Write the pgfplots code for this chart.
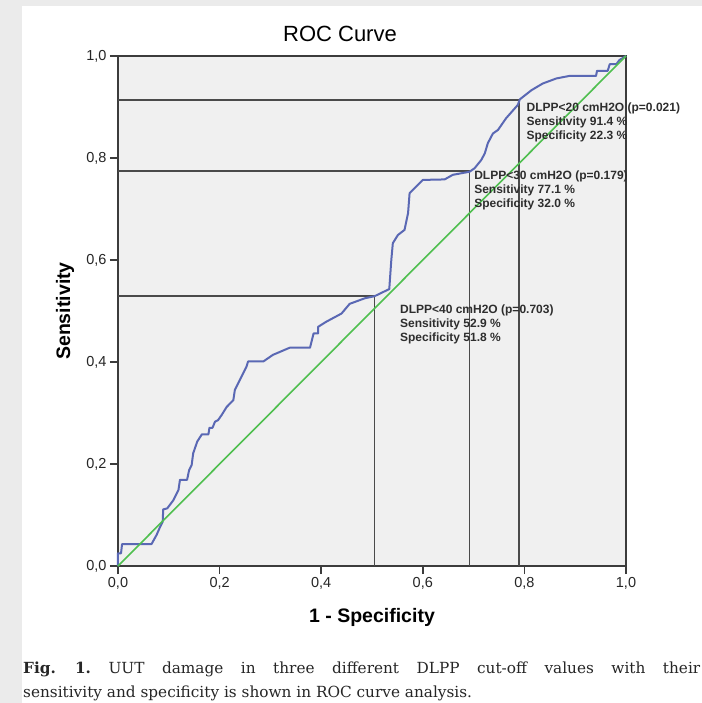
\documentclass[border=0pt]{standalone}
\usepackage{fontspec}
\setmainfont{Liberation Sans}
\newfontfamily\capfont{DejaVu Serif}
\usepackage{pgfplots}
\pgfplotsset{compat=1.18}
\definecolor{framegray}{HTML}{EBEBEB}
\definecolor{plotbg}{HTML}{F0F0F0}
\definecolor{axisgray}{HTML}{3C3C3C}
\definecolor{refgray}{HTML}{4A4A4A}
\definecolor{rocblue}{HTML}{5A68B4}
\definecolor{diaggreen}{HTML}{4FBF4F}
\definecolor{txtgray}{HTML}{2E2E2E}

% cut-off annotation: x, y (baseline of first line), three lines
\newcommand{\cutoff}[5]{%
  \node[annot] at (axis cs:#1,#2) {#3};
  \node[annot, yshift=-14bp] at (axis cs:#1,#2) {#4};
  \node[annot, yshift=-28bp] at (axis cs:#1,#2) {#5};
}

\begin{document}
\frenchspacing
\begin{tikzpicture}[
  annot/.style={anchor=base west, inner sep=0pt, text=txtgray,
    font=\fontsize{12bp}{14bp}\selectfont\bfseries}
]
% page background
\fill[framegray] (-118bp,-137bp) rectangle (584bp,566bp);
\fill[white] (-96bp,-137bp) rectangle (584bp,560bp);

\begin{axis}[
  at={(0,0)}, anchor=south west,
  scale only axis, width=508bp, height=510bp,
  xmin=0, xmax=1, ymin=0, ymax=1,
  xtick={0,0.2,0.4,0.6,0.8,1}, ytick={0,0.2,0.4,0.6,0.8,1},
  tick pos=left, tick align=outside,
  major tick length=8bp,
  axis line style={draw=axisgray, line width=1.5bp},
  tick style={draw=axisgray, line width=1.5bp},
  axis background/.style={fill=plotbg},
  /pgf/number format/use comma,
  /pgf/number format/fixed,
  /pgf/number format/fixed zerofill,
  /pgf/number format/precision=1,
  /pgf/number format/assume math mode=true,
  tick label style={font=\fontsize{14.5bp}{16bp}\selectfont, text=black!85},
  title={ROC Curve},
  title style={font=\fontsize{22bp}{26bp}\selectfont,
    at={(axis description cs:0.437,1.0314)}, anchor=center},
  xlabel={1 - Specificity},
  xlabel style={font=\fontsize{19.5bp}{22bp}\selectfont\bfseries,
    at={(axis description cs:0.5,-0.1)}, anchor=center},
  ylabel={Sensitivity},
  ylabel style={font=\fontsize{19.5bp}{22bp}\selectfont\bfseries,
    at={(axis description cs:-0.1043,0.5)}, anchor=center},
  clip=false,
]
% cut-off reference lines
\addplot[refgray, line width=1.6bp] coordinates {(0,0.914) (0.789,0.914) (0.789,0)};
\addplot[refgray, line width=1.6bp] coordinates {(0,0.774) (0.692,0.774) (0.692,0)};
\addplot[refgray, line width=1.6bp] coordinates {(0,0.529) (0.505,0.529) (0.505,0)};

% ROC curve
\addplot[rocblue, line width=2bp, line join=round] coordinates {
  (0,0) (0,0.025) (0.006,0.025) (0.008,0.043) (0.066,0.043)
  (0.076,0.061) (0.083,0.077) (0.088,0.087) (0.089,0.111) (0.097,0.113)
  (0.109,0.129) (0.119,0.149) (0.122,0.169) (0.136,0.169) (0.140,0.188)
  (0.145,0.198) (0.148,0.221) (0.156,0.244) (0.165,0.258) (0.178,0.258)
  (0.180,0.271) (0.186,0.271) (0.191,0.283) (0.197,0.286) (0.204,0.296)
  (0.214,0.312) (0.227,0.325) (0.230,0.345) (0.240,0.365) (0.253,0.391)
  (0.256,0.401) (0.286,0.401) (0.305,0.414) (0.338,0.428) (0.378,0.428)
  (0.385,0.456) (0.394,0.456) (0.394,0.469) (0.410,0.479) (0.440,0.495)
  (0.456,0.514) (0.486,0.525) (0.505,0.529) (0.534,0.543) (0.538,0.600)
  (0.541,0.633) (0.551,0.649) (0.564,0.659) (0.571,0.692) (0.574,0.731)
  (0.587,0.744) (0.600,0.757) (0.643,0.758) (0.659,0.767) (0.692,0.773)
  (0.702,0.780) (0.715,0.796) (0.722,0.809) (0.728,0.829) (0.738,0.848)
  (0.748,0.855) (0.764,0.878) (0.787,0.904) (0.791,0.915) (0.814,0.933)
  (0.836,0.946) (0.863,0.956) (0.889,0.961) (0.941,0.961) (0.943,0.971)
  (0.964,0.971) (0.968,0.984) (0.981,0.984) (0.987,0.992) (1,1)
};

% chance diagonal
\addplot[diaggreen, line width=1.6bp] coordinates {(0,0) (1,1)};

\cutoff{0.804}{0.892}{DLPP<20 cmH2O (p=0.021)}{Sensitivity 91.4 \%}{Specificity 22.3 \%}
\cutoff{0.701}{0.757}{DLPP<30 cmH2O (p=0.179)}{Sensitivity 77.1 \%}{Specificity 32.0 \%}
\cutoff{0.555}{0.4955}{DLPP<40 cmH2O (p=0.703)}{Sensitivity 52.9 \%}{Specificity 51.8 \%}
\end{axis}

% figure caption
\node[anchor=base west, inner sep=0pt, text=black!85,
  font=\capfont\fontsize{15.3bp}{22bp}\selectfont] at (-95bp,-107bp)
  {\makebox[677bp][s]{\textbf{Fig.~1.} UUT damage in three different DLPP cut-off values with their}};
\node[anchor=base west, inner sep=0pt, text=black!85,
  font=\capfont\fontsize{15.3bp}{22bp}\selectfont] at (-95bp,-131bp)
  {sensitivity and specificity is shown in ROC curve analysis.};

\pgfresetboundingbox
\useasboundingbox (-118bp,-137bp) rectangle (584bp,566bp);
\end{tikzpicture}
\end{document}
